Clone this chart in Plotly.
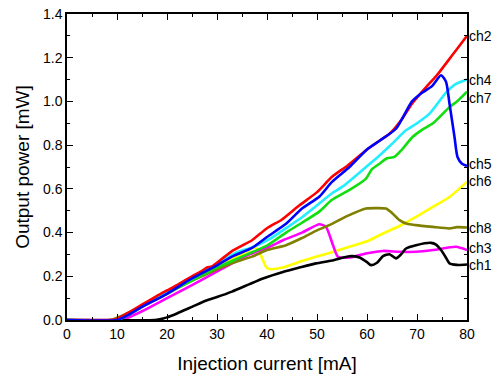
import plotly.graph_objects as go

# ---- data ----
ch1_x = [0, 17.5, 18.5, 20, 22, 25, 28, 30, 33, 36.5, 39.2, 43.2, 46.5, 49.8, 53, 56.5, 58.5, 60, 60.8, 62, 63.2, 64.5, 65.8, 66.8, 67.8, 69.8, 72.8, 73.8, 74.8, 75.8, 76.5, 78, 80]
ch1_y = [0, 0, 0.003, 0.012, 0.03, 0.06, 0.09, 0.105, 0.13, 0.164, 0.19, 0.22, 0.24, 0.259, 0.272, 0.292, 0.286, 0.265, 0.251, 0.262, 0.292, 0.301, 0.282, 0.30, 0.327, 0.342, 0.353, 0.345, 0.32, 0.285, 0.259, 0.252, 0.254]

ch2_x = [0, 9, 10, 12, 15, 18, 20, 22, 25, 27, 28, 29, 31, 33, 35, 37, 40, 43, 46.5, 50, 53, 56, 60, 62.5, 64.5, 67, 69, 72, 74, 76, 78, 80]
ch2_y = [0, 0, 0.005, 0.03, 0.07, 0.11, 0.135, 0.16, 0.2, 0.225, 0.24, 0.245, 0.28, 0.315, 0.34, 0.365, 0.42, 0.46, 0.525, 0.585, 0.655, 0.705, 0.78, 0.82, 0.852, 0.92, 0.99, 1.07, 1.12, 1.18, 1.24, 1.30]

ch3_x = [0, 10, 11, 15, 20, 25, 30.5, 36.5, 40.5, 43.2, 47, 50.5, 51.8, 53.2, 54.2, 56.5, 59.8, 63.2, 66.5, 69.8, 73.2, 77.8, 80]
ch3_y = [0, 0, 0.0, 0.04, 0.1, 0.16, 0.228, 0.30, 0.335, 0.365, 0.40, 0.438, 0.426, 0.342, 0.289, 0.286, 0.304, 0.316, 0.312, 0.312, 0.32, 0.335, 0.32]

ch4_x = [0, 10, 12, 15, 20, 25, 28, 31, 34, 37, 40.5, 43.8, 47, 50.5, 53, 55.1, 59.8, 62.5, 64.5, 67.8, 70, 72.5, 75.8, 77.8, 80]
ch4_y = [0, 0, 0.02, 0.06, 0.125, 0.19, 0.23, 0.27, 0.31, 0.332, 0.37, 0.42, 0.47, 0.534, 0.58, 0.61, 0.70, 0.753, 0.795, 0.868, 0.9, 0.944, 1.04, 1.08, 1.10]

ch5_x = [0, 10, 12, 15, 20, 25, 30, 33, 37, 40, 43.8, 47, 50.5, 53, 56.5, 60, 62.5, 65.8, 69, 71, 73, 74.8, 75.8, 76.5, 77.5, 78.1, 79, 80]
ch5_y = [0, 0, 0.02, 0.06, 0.12, 0.19, 0.25, 0.29, 0.33, 0.38, 0.44, 0.51, 0.565, 0.632, 0.70, 0.78, 0.82, 0.875, 1.0, 1.04, 1.07, 1.12, 1.09, 0.99, 0.837, 0.746, 0.715, 0.705]

ch6_x = [0, 10, 12, 15, 20, 25, 30, 35, 37.5, 38.5, 39.8, 40.5, 43.1, 46.5, 49.8, 53, 56.5, 60, 63.2, 66.5, 69.8, 73, 76.5, 80]
ch6_y = [0, 0, 0.02, 0.06, 0.12, 0.18, 0.24, 0.30, 0.332, 0.31, 0.243, 0.233, 0.24, 0.266, 0.289, 0.31, 0.335, 0.36, 0.396, 0.43, 0.472, 0.515, 0.563, 0.632]

ch7_x = [0, 10, 12, 15, 20, 25, 30, 33, 37, 40, 43.8, 47, 50.5, 53, 56.5, 59.8, 61, 62.5, 64, 65.5, 67, 69.1, 71, 73.2, 76.5, 78, 80]
ch7_y = [0, 0, 0.02, 0.06, 0.12, 0.18, 0.24, 0.27, 0.31, 0.34, 0.40, 0.445, 0.497, 0.55, 0.595, 0.647, 0.69, 0.715, 0.74, 0.746, 0.78, 0.837, 0.87, 0.90, 0.974, 1.0, 1.045]

ch8_x = [0, 8, 9, 10, 12, 15, 20, 25, 30.5, 33, 37, 40, 43.8, 47, 50, 53, 56, 59.8, 62, 63.8, 65, 66.5, 68, 69.8, 73.2, 76.5, 78, 80]
ch8_y = [0, 0, 0.002, 0.01, 0.03, 0.065, 0.125, 0.18, 0.237, 0.26, 0.29, 0.32, 0.342, 0.375, 0.41, 0.44, 0.475, 0.51, 0.512, 0.51, 0.49, 0.457, 0.44, 0.434, 0.426, 0.419, 0.425, 0.423]

names = ["ch1", "ch2", "ch3", "ch4", "ch5", "ch6", "ch7", "ch8"]
xs = [ch1_x, ch2_x, ch3_x, ch4_x, ch5_x, ch6_x, ch7_x, ch8_x]
ys = [ch1_y, ch2_y, ch3_y, ch4_y, ch5_y, ch6_y, ch7_y, ch8_y]
colors = ["#000000", "#ff0000", "#ff00ff", "#22eeff", "#0000ff", "#ffff00", "#11dd11", "#808000"]
label_shift = {"ch7": -6, "ch6": 1, "ch5": 2, "ch3": 2, "ch1": -1}

x_ticks = [0, 10, 20, 30, 40, 50, 60, 70, 80]
y_ticks = [0.0, 0.2, 0.4, 0.6, 0.8, 1.0, 1.2, 1.4]
y_tick_text = ["%.1f" % v for v in y_ticks]

FONT = "Arial, Liberation Sans, sans-serif"

# draw order so that red/blue sit on top like the reference
order = [5, 2, 7, 0, 6, 3, 1, 4]

fig = go.Figure()
for i in order:
    fig.add_trace(go.Scatter(
        x=xs[i], y=ys[i], mode="lines", name=names[i],
        line=dict(color=colors[i], width=2.6, shape="spline", smoothing=0.6),
        showlegend=False))

for i, n in enumerate(names):
    fig.add_annotation(
        x=1, xref="paper", y=ys[i][-1], yref="y", text=n,
        showarrow=False, xanchor="left", yanchor="middle", xshift=1,
        yshift=label_shift.get(n, 0), borderpad=0,
        font=dict(family=FONT, size=14, color="#000000"))

axis_common = dict(
    showline=True, linecolor="#000000", linewidth=1.5, mirror="ticks",
    ticks="inside", ticklen=6, tickwidth=1.2, tickcolor="#000000",
    showgrid=False, zeroline=False, automargin=False,
    tickfont=dict(family=FONT, size=14, color="#000000"),
)

fig.update_xaxes(
    range=[0, 80], tickvals=x_ticks,
    title=dict(text="Injection current [mA]", standoff=16,
               font=dict(family=FONT, size=19, color="#000000")),
    minor=dict(ticks="inside", ticklen=3, tickwidth=1.2, tickcolor="#000000", dtick=5, showgrid=False),
    **axis_common)
fig.update_yaxes(
    range=[0, 1.4], tickvals=y_ticks, ticktext=y_tick_text,
    title=dict(text="Output power [mW]", standoff=8,
               font=dict(family=FONT, size=19, color="#000000")),
    minor=dict(ticks="inside", ticklen=3, tickwidth=1.2, tickcolor="#000000", dtick=0.1, showgrid=False),
    **axis_common)

fig.update_layout(
    width=496, height=375,
    margin=dict(l=67, r=29, t=14, b=55),
    paper_bgcolor="#ffffff", plot_bgcolor="#ffffff",
)

fig.write_html("out.html")
